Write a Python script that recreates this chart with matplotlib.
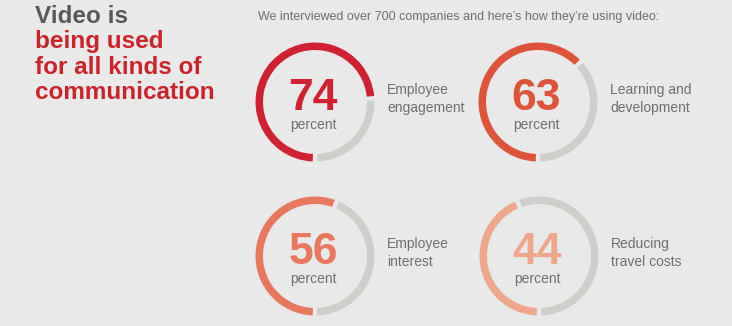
import matplotlib
matplotlib.use("Agg")
import matplotlib.pyplot as plt
from matplotlib.patches import Wedge

# Survey results
values = [74, 63, 56, 44]
labels = ["Employee\nengagement", "Learning and\ndevelopment", "Employee\ninterest", "Reducing\ntravel costs"]
colors = ["#cf2131", "#de5439", "#e8785b", "#f0a68b"]

title_gray = "Video is"
title_red = ["being used", "for all kinds of", "communication"]
subtitle = "We interviewed over 700 companies and here\u2019s how they\u2019re using video:"

BG = "#e9e9ea"
TRACK = "#cfceca"
TEXT = "#6d6e70"
FONT = "Liberation Sans"

W, H = 732, 326
fig = plt.figure(figsize=(W / 100, H / 100), dpi=100, facecolor=BG)
ax = fig.add_axes([0, 0, 1, 1])
ax.set_xlim(0, W)
ax.set_ylim(H, 0)
ax.set_aspect("equal")
ax.axis("off")
ax.set_facecolor(BG)

# ring layout (2 x 2 grid)
centers = [(315, 102), (538, 102), (315, 256), (539, 256)]
label_x_off = 72
R, WIDTH, GAP = 59.5, 7.5, 4.5

for (cx, cy), v, lab, col in zip(centers, values, labels, colors):
    end = 90 + 360 * v / 100
    ax.add_patch(Wedge((cx, cy), R, 90 + GAP / 2, end - GAP / 2, width=WIDTH,
                       facecolor=col, edgecolor="none"))
    ax.add_patch(Wedge((cx, cy), R, end + GAP / 2, 450 - GAP / 2, width=WIDTH,
                       facecolor=TRACK, edgecolor="none"))
    ax.text(cx - 2, cy + 8, f"{v}", fontsize=32, fontweight="bold", color=col,
            ha="center", va="baseline", family=FONT)
    ax.text(cx - 2, cy + 27, "percent", fontsize=10, color=TEXT,
            ha="center", va="baseline", family=FONT)
    ax.text(cx + label_x_off, cy - 3, lab, fontsize=10, color=TEXT,
            ha="left", va="center", linespacing=1.35, family=FONT)

# headline
ax.text(35, 23, title_gray, fontsize=17.5, fontweight="bold", color="#58595b",
        ha="left", va="baseline", family=FONT)
for i, line in enumerate(title_red):
    ax.text(35, 48 + 25.5 * i, line, fontsize=17.5, fontweight="bold",
            color="#cc2229", ha="left", va="baseline", family=FONT)

ax.text(258, 17, subtitle, fontsize=9, color=TEXT, ha="left", va="center",
        family=FONT)

fig.savefig("out.png", dpi=100, facecolor=BG)
